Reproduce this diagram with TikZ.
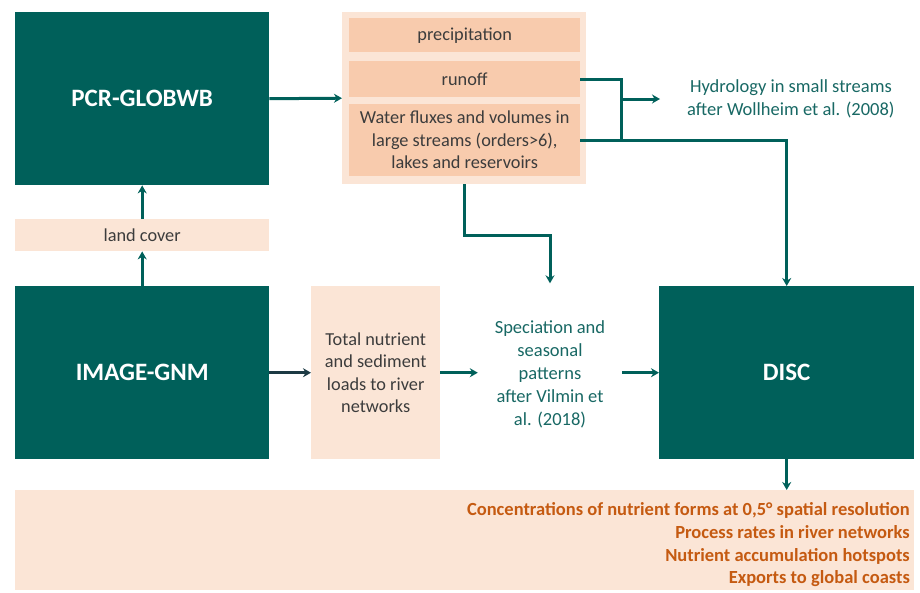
\documentclass[tikz,border=0pt]{standalone}
\usepackage{fontspec}
\setmainfont{Carlito}
\usetikzlibrary{arrows.meta}
\definecolor{teal1}{RGB}{0,96,90}
\definecolor{tealtxt}{RGB}{24,104,100}
\definecolor{peachL}{RGB}{251,229,214}
\definecolor{peachD}{RGB}{248,203,173}
\definecolor{graytxt}{RGB}{60,60,60}
\definecolor{navy1}{RGB}{28,58,68}
\definecolor{orangetxt}{RGB}{197,90,17}
\tikzset{
  darkbox/.style={fill=teal1, text=white, font=\fontsize{25}{30}\selectfont\bfseries, anchor=north west, inner sep=0pt},
  lightbox/.style={fill=peachL, text=graytxt, font=\fontsize{18.3}{22.5}\selectfont, anchor=north west, inner sep=0pt, align=center},
  innerbox/.style={fill=peachD, text=graytxt, font=\fontsize{18.3}{22.5}\selectfont, anchor=north west, inner sep=0pt, align=center},
  tealtext/.style={text=tealtxt, font=\fontsize{18.5}{23}\selectfont, align=center, inner sep=0pt},
  conn/.style={draw=teal1, line width=3pt},
  arr/.style={conn, -{Stealth[length=8pt,width=9pt]}},
}
\begin{document}
\begin{tikzpicture}[x=1pt,y=-1pt]
\useasboundingbox (0,0) rectangle (920,592);
% left column
\node[darkbox, minimum width=254, minimum height=173] (pcr) at (15,12) {PCR-GLOBWB};
\node[lightbox, minimum width=254, minimum height=32] (land) at (15,219) {land cover};
\node[darkbox, minimum width=254, minimum height=173] (image) at (15,286) {IMAGE-GNM};
% top panel
\node[lightbox, minimum width=244, minimum height=172] (panel) at (342,12) {};
\node[innerbox, minimum width=231, minimum height=34] (precip) at (349,18) {precipitation};
\node[innerbox, minimum width=231, minimum height=36] (runoff) at (349,61) {runoff};
\node[innerbox, minimum width=231, minimum height=72] (water) at (349,104) {Water fluxes and volumes in\\large streams (orders>6),\\lakes and reservoirs};
% middle row
\node[lightbox, minimum width=129, minimum height=173] (total) at (311,286) {Total nutrient\\and sediment\\loads to river\\networks};
\node[tealtext, minimum width=144, minimum height=182] (spec) at (550,374.5) {Speciation and\\seasonal\\patterns\\after Vilmin et\\al. (2018)};
\node[darkbox, minimum width=255, minimum height=173] (disc) at (659,286) {DISC};
% hydrology text
\node[tealtext, anchor=west, inner xsep=27pt] (hydro) at (660,99) {Hydrology in small streams\\after Wollheim et al. (2008)};
% outputs
\node[fill=peachL, minimum width=899, minimum height=100, anchor=north west, inner sep=0pt] (out) at (15,490) {};
\node[text=orangetxt, font=\fontsize{18.5}{22.7}\selectfont\bfseries, align=right, anchor=east, inner sep=0pt] (outtxt) at (910,545)
  {Concentrations of nutrient forms at 0,5° spatial resolution\\Process rates in river networks\\Nutrient accumulation hotspots\\Exports to global coasts};
% connectors
\draw[arr] (image.north) -- (land.south);
\draw[arr] (land.north) -- (pcr.south);
\draw[arr] (pcr.east) -- (panel.west);
\coordinate (jt) at (621,79);
\coordinate (jm) at (621,99);
\coordinate (jb) at (621,140);
\draw[conn] (runoff.east |- jt) -- (jt) -- (jb);
\draw[arr] (jm) -- (hydro.west);
\draw[arr] (water.east) -| (disc.north);
\coordinate (pd) at (464,235);
\draw[arr] (panel.south -| pd) -- (pd) -| (spec.north);
\draw[draw=navy1, line width=3pt, -{Stealth[length=8pt,width=9pt]}] (image.east) -- (total.west);
\draw[arr] (total.east) -- (total.east -| spec.west);
\draw[arr] (disc.west -| spec.east) -- (disc.west);
\draw[arr] (disc.south) -- (disc.south |- out.north);
\end{tikzpicture}
\end{document}
